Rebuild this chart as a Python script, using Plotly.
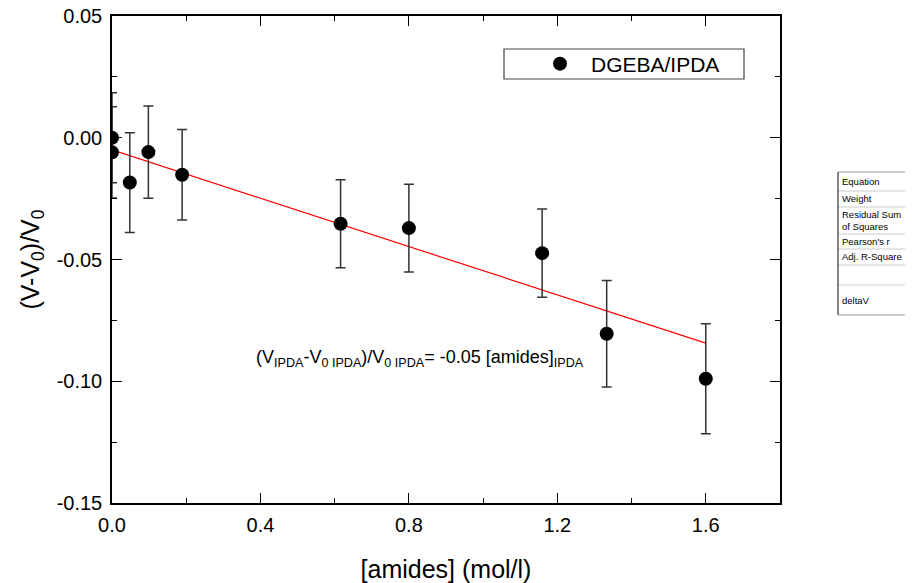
import plotly.graph_objects as go

# ---- data ----
amides = [0.0, 0.0, 0.048, 0.098, 0.189, 0.616, 0.800, 1.159, 1.333, 1.600]
delta_v = [0.0, -0.0060, -0.0184, -0.0059, -0.0152, -0.0353, -0.0371, -0.0474, -0.0805, -0.0990]
delta_v_err = [0.0185, 0.0187, 0.0205, 0.0189, 0.0186, 0.0181, 0.0180, 0.0181, 0.0219, 0.0226]

fit_intercept = -0.0050
fit_slope = -0.0496
fit_x = [0.0, 1.6]
fit_y = [fit_intercept + fit_slope * x for x in fit_x]

x_tick_vals = [0.0, 0.4, 0.8, 1.2, 1.6]
x_tick_text = ["0.0", "0.4", "0.8", "1.2", "1.6"]
y_tick_vals = [-0.15, -0.10, -0.05, 0.0, 0.05]
y_tick_text = ["-0.15", "-0.10", "-0.05", "0.00", "0.05"]

table_rows = ["Equation", "Weight", "Residual Sum<br>of Squares", "Pearson's r", "Adj. R-Square", "", "deltaV"]

FONT = "Arial, Liberation Sans, sans-serif"

# screen geometry (page body has an 8px margin)
OFF = 8
W, H = 913, 583
L, R, T, B = 112, 780, 16, 503
FW, FH = W - OFF, H - OFF


def px(xp):
    return (xp - L) / (R - L)


def py(yp):
    return (B - yp) / (B - T)


fig = go.Figure()
fig.add_trace(go.Scatter(
    x=fit_x, y=fit_y, mode="lines",
    line=dict(color="#ff0000", width=1.2),
    showlegend=False, hoverinfo="skip"))
fig.add_trace(go.Scatter(
    x=amides, y=delta_v, mode="markers", name="DGEBA/IPDA",
    marker=dict(color="black", size=14),
    error_y=dict(type="data", array=delta_v_err, visible=True,
                 color="#333333", thickness=1.5, width=5),
    showlegend=True))

shapes = []
annotations = []

# legend frame
shapes.append(dict(type="rect", xref="paper", yref="paper",
                   x0=px(504), x1=px(744), y0=py(79), y1=py(49),
                   line=dict(color="#444444", width=1.2), fillcolor="rgba(0,0,0,0)"))

# side table
row_lines = [172, 191, 207, 234, 249, 265, 285, 315]
for i, yl in enumerate(row_lines):
    shapes.append(dict(type="line", xref="paper", yref="paper",
                       x0=px(838), x1=px(913), y0=py(yl), y1=py(yl),
                       line=dict(color="#cccccc" if 0 < i < len(row_lines) - 1 else "#999999", width=1)))
shapes.append(dict(type="line", xref="paper", yref="paper",
                   x0=px(838), x1=px(838), y0=py(172), y1=py(315),
                   line=dict(color="#333333", width=1.2)))
for i, txt in enumerate(table_rows):
    if not txt:
        continue
    ymid = (row_lines[i] + row_lines[i + 1]) / 2
    annotations.append(dict(text=txt, xref="paper", yref="paper",
                            x=px(840), y=py(ymid), xanchor="left", yanchor="middle",
                            align="left", showarrow=False,
                            font=dict(family=FONT, size=9.5, color="black")))

# equation annotation
annotations.append(dict(
    text="(V<sub>IPDA</sub>-V<sub>0 IPDA</sub>)/V<sub>0 IPDA</sub>= -0.05 [amides]<sub>IPDA</sub>",
    xref="paper", yref="paper", x=px(420), y=py(358), xanchor="center", yanchor="middle",
    showarrow=False, font=dict(family=FONT, size=18, color="black")))

axis_common = dict(
    showline=True, linecolor="black", linewidth=1.5, mirror="allticks",
    ticks="inside", ticklen=10, tickwidth=1.2, tickcolor="black",
    showgrid=False, zeroline=False, automargin=False, ticklabeloverflow="allow",
    tickfont=dict(family=FONT, size=20, color="black"),
)

fig.update_layout(
    template="none",
    width=FW, height=FH,
    margin=dict(l=L - OFF, r=FW - (R - OFF), t=T - OFF, b=FH - (B - OFF), pad=0),
    paper_bgcolor="white", plot_bgcolor="white",
    font=dict(family=FONT, color="black"),
    showlegend=True,
    xaxis=dict(range=[0, 1.8], tickmode="array", tickvals=x_tick_vals, ticktext=x_tick_text,
               ticklabelstandoff=3,
               minor=dict(ticks="inside", ticklen=5, dtick=0.2, tick0=0, tickcolor="black", tickwidth=1.2),
               title=dict(text="[amides] (mol/l)", font=dict(family=FONT, size=25), standoff=26),
               **axis_common),
    yaxis=dict(range=[-0.15, 0.05], tickmode="array", tickvals=y_tick_vals, ticktext=y_tick_text,
               ticklabelstandoff=4,
               minor=dict(ticks="inside", ticklen=5, dtick=0.025, tick0=0, tickcolor="black", tickwidth=1.2),
               title=dict(text="(V-V<sub>0</sub>)/V<sub>0</sub>", font=dict(family=FONT, size=25), standoff=10),
               **axis_common),
    legend=dict(x=px(529), y=py(64), xanchor="left", yanchor="middle",
                bgcolor="rgba(0,0,0,0)", borderwidth=0, itemwidth=52,
                font=dict(family=FONT, size=21, color="black")),
    shapes=shapes,
    annotations=annotations,
)

fig.write_html("out.html")
